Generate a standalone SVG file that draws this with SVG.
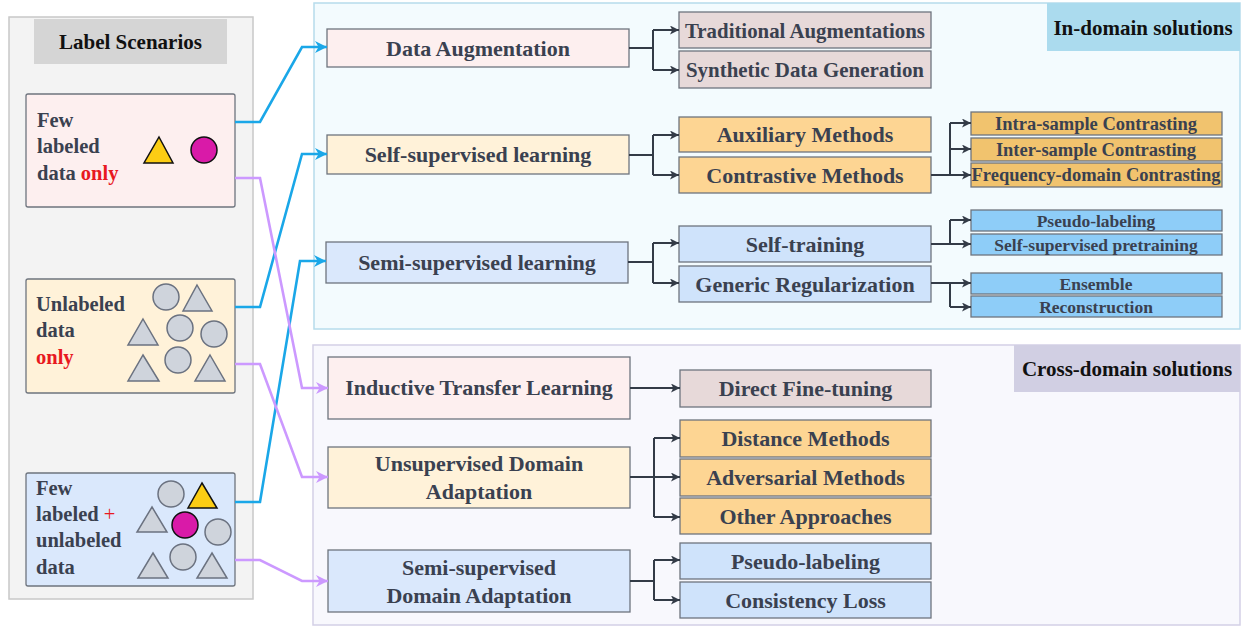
<svg xmlns="http://www.w3.org/2000/svg" width="1247" height="626" viewBox="0 0 1247 626">
<style>
text{font-family:"Liberation Serif","Times New Roman",serif;font-weight:bold;fill:#3a4150}
.hd{fill:#111;font-size:21px}
.l1{font-size:22px}
.l2{font-size:22px}
.l3{font-size:18.5px}
.l3b{font-size:17.5px}
.lt{font-size:20.5px}
.red{fill:#e8191f}
.box{stroke:#6e747e;stroke-width:1.3}
.pink{fill:#fdefef}.cream{fill:#fff2d9}.lblue{fill:#dae8fc}
.gp{fill:#e7d9d9}.or{fill:#fdd593}.bl2{fill:#cfe3fb}
.or3{fill:#f1c36e}.bl3{fill:#8ecdf8}
.g{fill:#cfd4dc;stroke:#6b7280;stroke-width:1.5}
.yl{fill:#fccd14;stroke:#111;stroke-width:1.5}
.mg{fill:#d91aa8;stroke:#111;stroke-width:1.5}
.dk{fill:none;stroke:#333b47;stroke-width:2}
.bc{fill:none;stroke:#1aa7e8;stroke-width:2.6}
.pc{fill:none;stroke:#cc99ff;stroke-width:2.6}
</style>
<defs>
<marker id="ad" viewBox="0 0 10 10" markerUnits="userSpaceOnUse" markerWidth="10" markerHeight="9" refX="10" refY="5" orient="auto"><path d="M0,0 L10,5 L0,10 L2.5,5 z" fill="#333b47"/></marker>
<marker id="ab" viewBox="0 0 10 10" markerUnits="userSpaceOnUse" markerWidth="12" markerHeight="12" refX="10" refY="5" orient="auto"><path d="M0,0 L10,5 L0,10 L3,5 z" fill="#1aa7e8"/></marker>
<marker id="ap" viewBox="0 0 10 10" markerUnits="userSpaceOnUse" markerWidth="12" markerHeight="12" refX="10" refY="5" orient="auto"><path d="M0,0 L10,5 L0,10 L3,5 z" fill="#cc99ff"/></marker>
</defs>

<!-- panels -->
<g id="panel-left">
<rect x="9" y="17" width="244" height="582" fill="#f3f3f3" stroke="#c8c8c8" stroke-width="1.5"/>
<rect x="34" y="19" width="193" height="45" fill="#d5d5d5"/>
<text class="hd" x="130.5" y="49" text-anchor="middle">Label Scenarios</text>
</g>
<g id="panel-in">
<rect x="314" y="3" width="926" height="326" fill="#f3fbfe" stroke="#b6dcec" stroke-width="1.5"/>
<rect x="1047" y="3" width="193" height="48" fill="#abdbee"/>
<text class="hd" x="1143" y="35" text-anchor="middle">In-domain solutions</text>
</g>
<g id="panel-cross">
<rect x="313" y="345" width="927" height="280" fill="#f8f8fd" stroke="#d3d0e6" stroke-width="1.5"/>
<rect x="1014" y="345" width="226" height="47" fill="#d1cfe3"/>
<text class="hd" x="1127" y="376" text-anchor="middle">Cross-domain solutions</text>
</g>

<!-- scenario nodes -->
<g id="s-few">
<rect class="box pink" x="26" y="94" width="209" height="113" rx="2"/>
<text class="lt" x="37" y="127">Few</text>
<text class="lt" x="37" y="153">labeled</text>
<text class="lt" x="37" y="180">data <tspan class="red">only</tspan></text>
<polygon class="yl" points="159,137 173,163 144,163"/>
<circle class="mg" cx="204" cy="150" r="13"/>
</g>
<g id="s-unl">
<rect class="box cream" x="26" y="279" width="209" height="114" rx="2"/>
<text class="lt" x="36" y="311">Unlabeled</text>
<text class="lt" x="36" y="337">data</text>
<text class="lt red" x="36" y="364">only</text>
<circle class="g" cx="166" cy="297" r="13"/>
<polygon class="g" points="197,285 212,311 183,311"/>
<polygon class="g" points="143,319 158,345 128,345"/>
<circle class="g" cx="180" cy="328" r="13"/>
<circle class="g" cx="214" cy="334" r="13"/>
<polygon class="g" points="143,355 159,381 128,381"/>
<circle class="g" cx="178" cy="360" r="13"/>
<polygon class="g" points="210,355 225,381 195,381"/>
</g>
<g id="s-mix">
<rect class="box lblue" x="26" y="473" width="209" height="113" rx="2"/>
<text class="lt" x="36" y="495">Few</text>
<text class="lt" x="36" y="521">labeled <tspan class="red" font-weight="normal">+</tspan></text>
<text class="lt" x="36" y="547">unlabeled</text>
<text class="lt" x="36" y="574">data</text>
<circle class="g" cx="171" cy="494" r="13"/>
<polygon class="yl" points="202,483 217,508 188,508"/>
<polygon class="g" points="152,507 167,532 137,532"/>
<circle class="mg" cx="185" cy="525" r="13"/>
<circle class="g" cx="218" cy="532" r="13"/>
<circle class="g" cx="183" cy="557" r="13"/>
<polygon class="g" points="153,553 168,578 138,578"/>
<polygon class="g" points="212,553 227,578 197,578"/>
</g>

<!-- in-domain level 1 -->
<g id="n-da"><rect class="box pink" x="327" y="29" width="302" height="38"/><text class="l1" x="478" y="56" text-anchor="middle">Data Augmentation</text></g>
<g id="n-ssl"><rect class="box cream" x="327" y="135" width="302" height="39"/><text class="l1" x="478" y="162" text-anchor="middle">Self-supervised learning</text></g>
<g id="n-semi"><rect class="box lblue" x="326" y="242" width="302" height="41"/><text class="l1" x="477" y="270" text-anchor="middle">Semi-supervised learning</text></g>

<!-- in-domain level 2 -->
<g id="n-trad"><rect class="box gp" x="679" y="12" width="252" height="36"/><text class="l2" x="805" y="38" text-anchor="middle" textLength="240" lengthAdjust="spacingAndGlyphs">Traditional Augmentations</text></g>
<g id="n-syn"><rect class="box gp" x="679" y="51" width="252" height="37"/><text class="l2" x="805" y="77" text-anchor="middle" textLength="238" lengthAdjust="spacingAndGlyphs">Synthetic Data Generation</text></g>
<g id="n-aux"><rect class="box or" x="679" y="117" width="252" height="35"/><text class="l2" x="805" y="142" text-anchor="middle">Auxiliary Methods</text></g>
<g id="n-con"><rect class="box or" x="679" y="157" width="252" height="36"/><text class="l2" x="805" y="183" text-anchor="middle">Contrastive Methods</text></g>
<g id="n-st"><rect class="box bl2" x="679" y="226" width="252" height="36"/><text class="l2" x="805" y="252" text-anchor="middle">Self-training</text></g>
<g id="n-gr"><rect class="box bl2" x="679" y="266" width="252" height="36"/><text class="l2" x="805" y="292" text-anchor="middle">Generic Regularization</text></g>

<!-- in-domain level 3 -->
<g id="n-intra"><rect class="box or3" x="971" y="112" width="251" height="23"/><text class="l3" x="1096" y="130" text-anchor="middle">Intra-sample Contrasting</text></g>
<g id="n-inter"><rect class="box or3" x="971" y="138" width="251" height="23"/><text class="l3" x="1096" y="156" text-anchor="middle">Inter-sample Contrasting</text></g>
<g id="n-freq"><rect class="box or3" x="971" y="163" width="251" height="24"/><text class="l3" x="1096" y="181" text-anchor="middle" textLength="249" lengthAdjust="spacingAndGlyphs">Frequency-domain Contrasting</text></g>
<g id="n-pl"><rect class="box bl3" x="971" y="210" width="251" height="21"/><text class="l3b" x="1096" y="227" text-anchor="middle">Pseudo-labeling</text></g>
<g id="n-sp"><rect class="box bl3" x="971" y="234" width="251" height="21"/><text class="l3b" x="1096" y="251" text-anchor="middle">Self-supervised pretraining</text></g>
<g id="n-ens"><rect class="box bl3" x="971" y="273" width="251" height="21"/><text class="l3b" x="1096" y="290" text-anchor="middle">Ensemble</text></g>
<g id="n-rec"><rect class="box bl3" x="971" y="296" width="251" height="21"/><text class="l3b" x="1096" y="313" text-anchor="middle">Reconstruction</text></g>

<!-- cross-domain level 1 -->
<g id="n-itl"><rect class="box pink" x="328" y="357" width="302" height="62"/><text class="l1" x="479" y="395" text-anchor="middle">Inductive Transfer Learning</text></g>
<g id="n-uda"><rect class="box cream" x="328" y="447" width="302" height="61"/><text class="l1" x="479" y="471" text-anchor="middle">Unsupervised Domain</text><text class="l1" x="479" y="499" text-anchor="middle">Adaptation</text></g>
<g id="n-ssda"><rect class="box lblue" x="328" y="550" width="302" height="62"/><text class="l1" x="479" y="575" text-anchor="middle">Semi-supervised</text><text class="l1" x="479" y="603" text-anchor="middle">Domain Adaptation</text></g>

<!-- cross-domain level 2 -->
<g id="n-dft"><rect class="box gp" x="680" y="370" width="251" height="37"/><text class="l2" x="805.5" y="396" text-anchor="middle" font-size="21">Direct Fine-tuning</text></g>
<g id="n-dist"><rect class="box or" x="680" y="420" width="251" height="37"/><text class="l2" x="805.5" y="446" text-anchor="middle">Distance Methods</text></g>
<g id="n-adv"><rect class="box or" x="680" y="459" width="251" height="37"/><text class="l2" x="805.5" y="485" text-anchor="middle">Adversarial Methods</text></g>
<g id="n-oth"><rect class="box or" x="680" y="498" width="251" height="36"/><text class="l2" x="805.5" y="524" text-anchor="middle">Other Approaches</text></g>
<g id="n-pl2"><rect class="box bl2" x="680" y="543" width="251" height="36"/><text class="l2" x="805.5" y="569" text-anchor="middle">Pseudo-labeling</text></g>
<g id="n-cl"><rect class="box bl2" x="680" y="582" width="251" height="36"/><text class="l2" x="805.5" y="608" text-anchor="middle">Consistency Loss</text></g>

<!-- connectors -->
<g id="connectors">
<path class="dk" d="M629,48 H653 M653,30 V70"/>
<path class="dk" d="M653,30 H679" marker-end="url(#ad)"/>
<path class="dk" d="M653,70 H679" marker-end="url(#ad)"/>
<path class="dk" d="M629,155 H653 M653,135 V175"/>
<path class="dk" d="M653,135 H679" marker-end="url(#ad)"/>
<path class="dk" d="M653,175 H679" marker-end="url(#ad)"/>
<path class="dk" d="M628,262 H653 M653,243 V283"/>
<path class="dk" d="M653,243 H679" marker-end="url(#ad)"/>
<path class="dk" d="M653,283 H679" marker-end="url(#ad)"/>

<path class="dk" d="M931,175 H950 M950,123 V175"/>
<path class="dk" d="M950,123 H971" marker-end="url(#ad)"/>
<path class="dk" d="M950,149 H971" marker-end="url(#ad)"/>
<path class="dk" d="M950,175 H971" marker-end="url(#ad)"/>
<path class="dk" d="M931,244 H950 M950,220 V244"/>
<path class="dk" d="M950,220 H971" marker-end="url(#ad)"/>
<path class="dk" d="M950,244 H971" marker-end="url(#ad)"/>
<path class="dk" d="M931,283 H950 M950,283 V307"/>
<path class="dk" d="M950,283 H971" marker-end="url(#ad)"/>
<path class="dk" d="M950,307 H971" marker-end="url(#ad)"/>

<path class="dk" d="M630,388 H680" marker-end="url(#ad)"/>
<path class="dk" d="M630,477 H654 M654,438 V517"/>
<path class="dk" d="M654,438 H680" marker-end="url(#ad)"/>
<path class="dk" d="M654,477 H680" marker-end="url(#ad)"/>
<path class="dk" d="M654,517 H680" marker-end="url(#ad)"/>
<path class="dk" d="M630,581 H654 M654,560 V600"/>
<path class="dk" d="M654,560 H680" marker-end="url(#ad)"/>
<path class="dk" d="M654,600 H680" marker-end="url(#ad)"/>

<path class="bc" d="M235,122 H260 L302,47 H327" marker-end="url(#ab)"/>
<path class="bc" d="M235,307 H260 L302,154 H327" marker-end="url(#ab)"/>
<path class="bc" d="M235,502 H260 L300,261 H326" marker-end="url(#ab)"/>
<path class="pc" d="M235,178 H260 L302,388 H328" marker-end="url(#ap)"/>
<path class="pc" d="M235,364 H260 L302,477 H328" marker-end="url(#ap)"/>
<path class="pc" d="M235,560 H260 L302,581 H328" marker-end="url(#ap)"/>
</g>
</svg>
